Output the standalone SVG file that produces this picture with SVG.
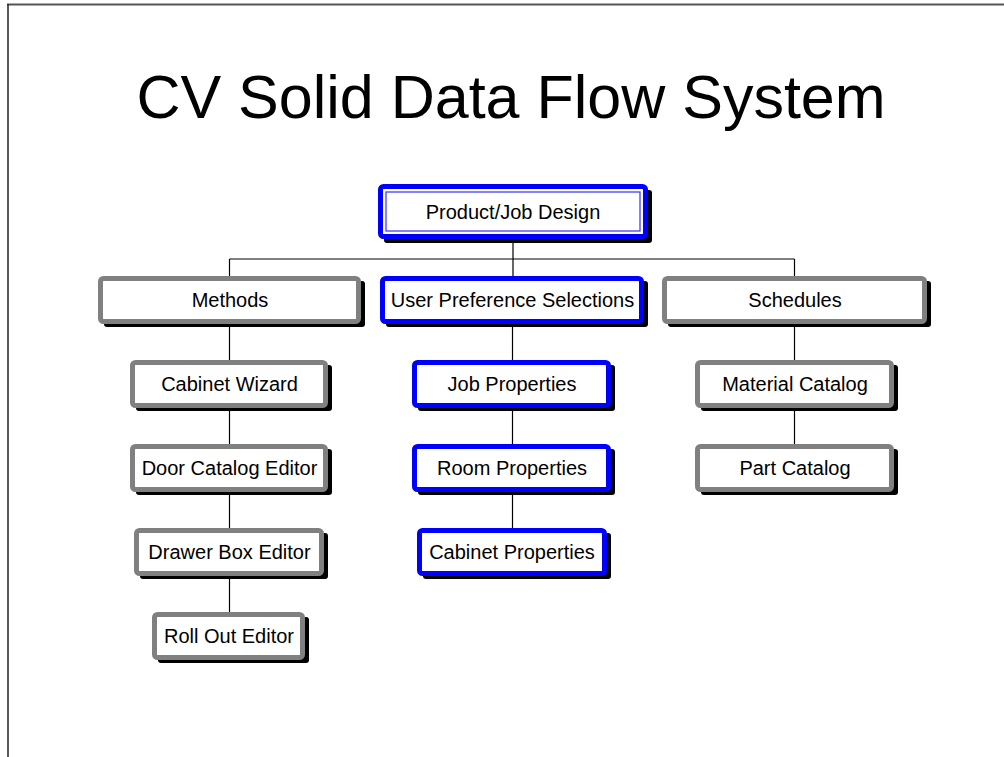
<svg xmlns="http://www.w3.org/2000/svg" width="1004" height="757" viewBox="0 0 1004 757">
<style>
.bg{fill:#ffffff}
.sh{fill:#000000}
.g{fill:#ffffff;stroke:#808080;stroke-width:5}
.b{fill:#ffffff;stroke:#0000ff;stroke-width:5}
.in{fill:none;stroke:#4040ff;stroke-width:1.3}
.t{font-family:"Liberation Sans",Arial,sans-serif;font-size:20px;fill:#000;text-anchor:middle}
.title{font-family:"Liberation Sans",Arial,sans-serif;font-size:61px;fill:#000;text-anchor:middle}
.c{stroke:#000;stroke-width:1.2;fill:none}
</style>
<rect class="bg" x="0" y="0" width="1004" height="757"/>
<line x1="7" y1="4.5" x2="1004" y2="4.5" stroke="#555" stroke-width="2"/>
<line x1="8" y1="4" x2="8" y2="757" stroke="#222" stroke-width="1.5"/>
<text class="title" x="511" y="118">CV Solid Data Flow System</text>
<g id="connectors">
<line class="c" x1="513" y1="238" x2="513" y2="278"/>
<line class="c" x1="229.5" y1="259" x2="794.5" y2="259"/>
<line class="c" x1="229.5" y1="259" x2="229.5" y2="278"/>
<line class="c" x1="794.5" y1="259" x2="794.5" y2="278"/>
<line class="c" x1="229.5" y1="322" x2="229.5" y2="362"/>
<line class="c" x1="229.5" y1="406" x2="229.5" y2="446"/>
<line class="c" x1="229.5" y1="490" x2="229.5" y2="530"/>
<line class="c" x1="229.5" y1="574" x2="229.5" y2="614"/>
<line class="c" x1="512.5" y1="322" x2="512.5" y2="362"/>
<line class="c" x1="512.5" y1="406" x2="512.5" y2="446"/>
<line class="c" x1="512.5" y1="490" x2="512.5" y2="530"/>
<line class="c" x1="794.5" y1="322" x2="794.5" y2="361"/>
<line class="c" x1="794.5" y1="406" x2="794.5" y2="446"/>
</g>
<g id="product-job-design">
<rect class="sh" x="384" y="190" width="268" height="53" rx="3"/>
<rect class="b" x="380.5" y="186.5" width="265" height="50" rx="3"/>
<rect class="in" x="386" y="192" width="254" height="39"/>
<text class="t" x="513" y="218.5">Product/Job Design</text>
</g>
<g id="methods">
<rect class="sh" x="104" y="281" width="261" height="46" rx="3"/>
<rect class="g" x="100.5" y="278.5" width="258" height="43" rx="3"/>
<text class="t" x="230" y="306.5">Methods</text>
</g>
<g id="user-preference-selections">
<rect class="sh" x="386" y="281" width="262" height="46" rx="3"/>
<rect class="b" x="382.5" y="278.5" width="259" height="43" rx="3"/>
<text class="t" x="512.5" y="306.5">User Preference Selections</text>
</g>
<g id="schedules">
<rect class="sh" x="668" y="281" width="263" height="46" rx="3"/>
<rect class="g" x="664.5" y="278.5" width="260" height="43" rx="3"/>
<text class="t" x="795" y="306.5">Schedules</text>
</g>
<g id="cabinet-wizard">
<rect class="sh" x="136" y="365" width="196" height="46" rx="3"/>
<rect class="g" x="132.5" y="362.5" width="193" height="43" rx="3"/>
<text class="t" x="229.5" y="390.5">Cabinet Wizard</text>
</g>
<g id="door-catalog-editor">
<rect class="sh" x="136" y="449" width="196" height="46" rx="3"/>
<rect class="g" x="132.5" y="446.5" width="193" height="43" rx="3"/>
<text class="t" x="229.5" y="474.5">Door Catalog Editor</text>
</g>
<g id="drawer-box-editor">
<rect class="sh" x="140" y="533" width="188" height="46" rx="3"/>
<rect class="g" x="136.5" y="530.5" width="185" height="43" rx="3"/>
<text class="t" x="229.5" y="558.5">Drawer Box Editor</text>
</g>
<g id="roll-out-editor">
<rect class="sh" x="158" y="617" width="151" height="46" rx="3"/>
<rect class="g" x="154.5" y="614.5" width="148" height="43" rx="3"/>
<text class="t" x="229" y="642.5">Roll Out Editor</text>
</g>
<g id="job-properties">
<rect class="sh" x="418" y="365" width="197" height="46" rx="3"/>
<rect class="b" x="414.5" y="362.5" width="194" height="43" rx="3"/>
<text class="t" x="512" y="390.5">Job Properties</text>
</g>
<g id="room-properties">
<rect class="sh" x="418" y="449" width="197" height="46" rx="3"/>
<rect class="b" x="414.5" y="446.5" width="194" height="43" rx="3"/>
<text class="t" x="512" y="474.5">Room Properties</text>
</g>
<g id="cabinet-properties">
<rect class="sh" x="423" y="533" width="188" height="46" rx="3"/>
<rect class="b" x="419.5" y="530.5" width="185" height="43" rx="3"/>
<text class="t" x="512" y="558.5">Cabinet Properties</text>
</g>
<g id="material-catalog">
<rect class="sh" x="701" y="365" width="197" height="46" rx="3"/>
<rect class="g" x="697.5" y="362.5" width="194" height="43" rx="3"/>
<text class="t" x="795" y="390.5">Material Catalog</text>
</g>
<g id="part-catalog">
<rect class="sh" x="701" y="449" width="197" height="46" rx="3"/>
<rect class="g" x="697.5" y="446.5" width="194" height="43" rx="3"/>
<text class="t" x="795" y="474.5">Part Catalog</text>
</g>
</svg>
